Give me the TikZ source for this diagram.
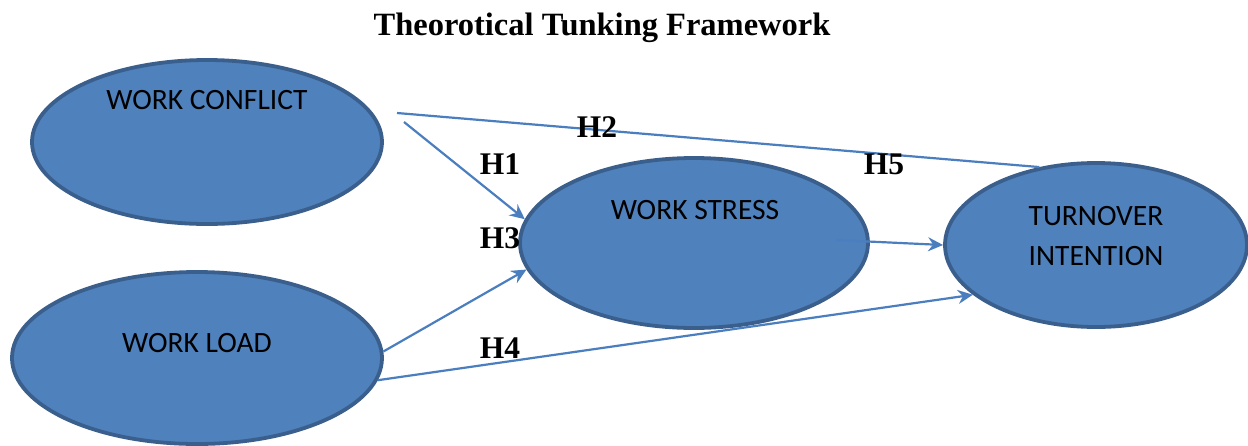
\documentclass[tikz,border=0pt]{standalone}
\usepackage{fontspec}
\setmainfont{Liberation Serif}
\newfontfamily\calib{Carlito}
\usetikzlibrary{shapes.geometric,arrows.meta}

\definecolor{ovalfill}{HTML}{4F81BD}
\definecolor{ovalline}{HTML}{3A5F8C}
\definecolor{linkcol}{HTML}{4A7EBF}

\tikzset{
  oval/.style={ellipse,fill=ovalfill,draw=ovalline,line width=3.8pt,inner sep=0pt},
  ovaltxt/.style={font=\calib\fontsize{29.5}{40}\selectfont,align=center,inner sep=0pt},
  hyp/.style={font=\bfseries\fontsize{31.5}{36}\selectfont,inner sep=0pt},
  link/.style={draw=linkcol,line width=2.2pt},
  linkarr/.style={link,-{Stealth[length=15pt,width=14pt,inset=5pt]}}
}

\begin{document}
\begin{tikzpicture}[x=1pt,y=-1pt]
\useasboundingbox (0,0) rectangle (1248,445);

\node[hyp,font=\bfseries\fontsize{32.5}{36}\selectfont] (title) at (602,28) {Theorotical Tunking Framework};

% ovals
\node[oval,minimum width=350pt,minimum height=164pt] (WC) at (207,142) {};
\node[oval,minimum width=348pt,minimum height=170pt] (WS) at (694,243) {};
\node[oval,minimum width=302pt,minimum height=164pt] (TI) at (1096,245) {};
\node[oval,minimum width=370pt,minimum height=172pt] (WL) at (197,358) {};

\node[ovaltxt] (WCt) at (207,100) {WORK CONFLICT};
\node[ovaltxt] (WSt) at (695,210) {WORK STRESS};
\node[ovaltxt] (TIt) at (1096,236) {TURNOVER\\INTENTION};
\node[ovaltxt] (WLt) at (197,343) {WORK LOAD};

% free ends of the links
\coordinate (h2s) at (397,113);
\coordinate (h1s) at (404,122);
\coordinate (h5s) at (836,240);

\draw[link] (h2s) -- (TI.126);
\draw[linkarr] (h1s) -- (WS.172);
\draw[linkarr] (WL.2) -- (WS.189);
\draw[linkarr] (WL.-7) -- (TI.202);
\draw[linkarr] (h5s) -- (TI.180);

% hypotheses
\node[hyp] (H1) at (500,164) {H1};
\node[hyp] (H2) at (597,127) {H2};
\node[hyp] (H3) at (500,238) {H3};
\node[hyp] (H4) at (500,348) {H4};
\node[hyp] (H5) at (884,164) {H5};
\end{tikzpicture}
\end{document}
